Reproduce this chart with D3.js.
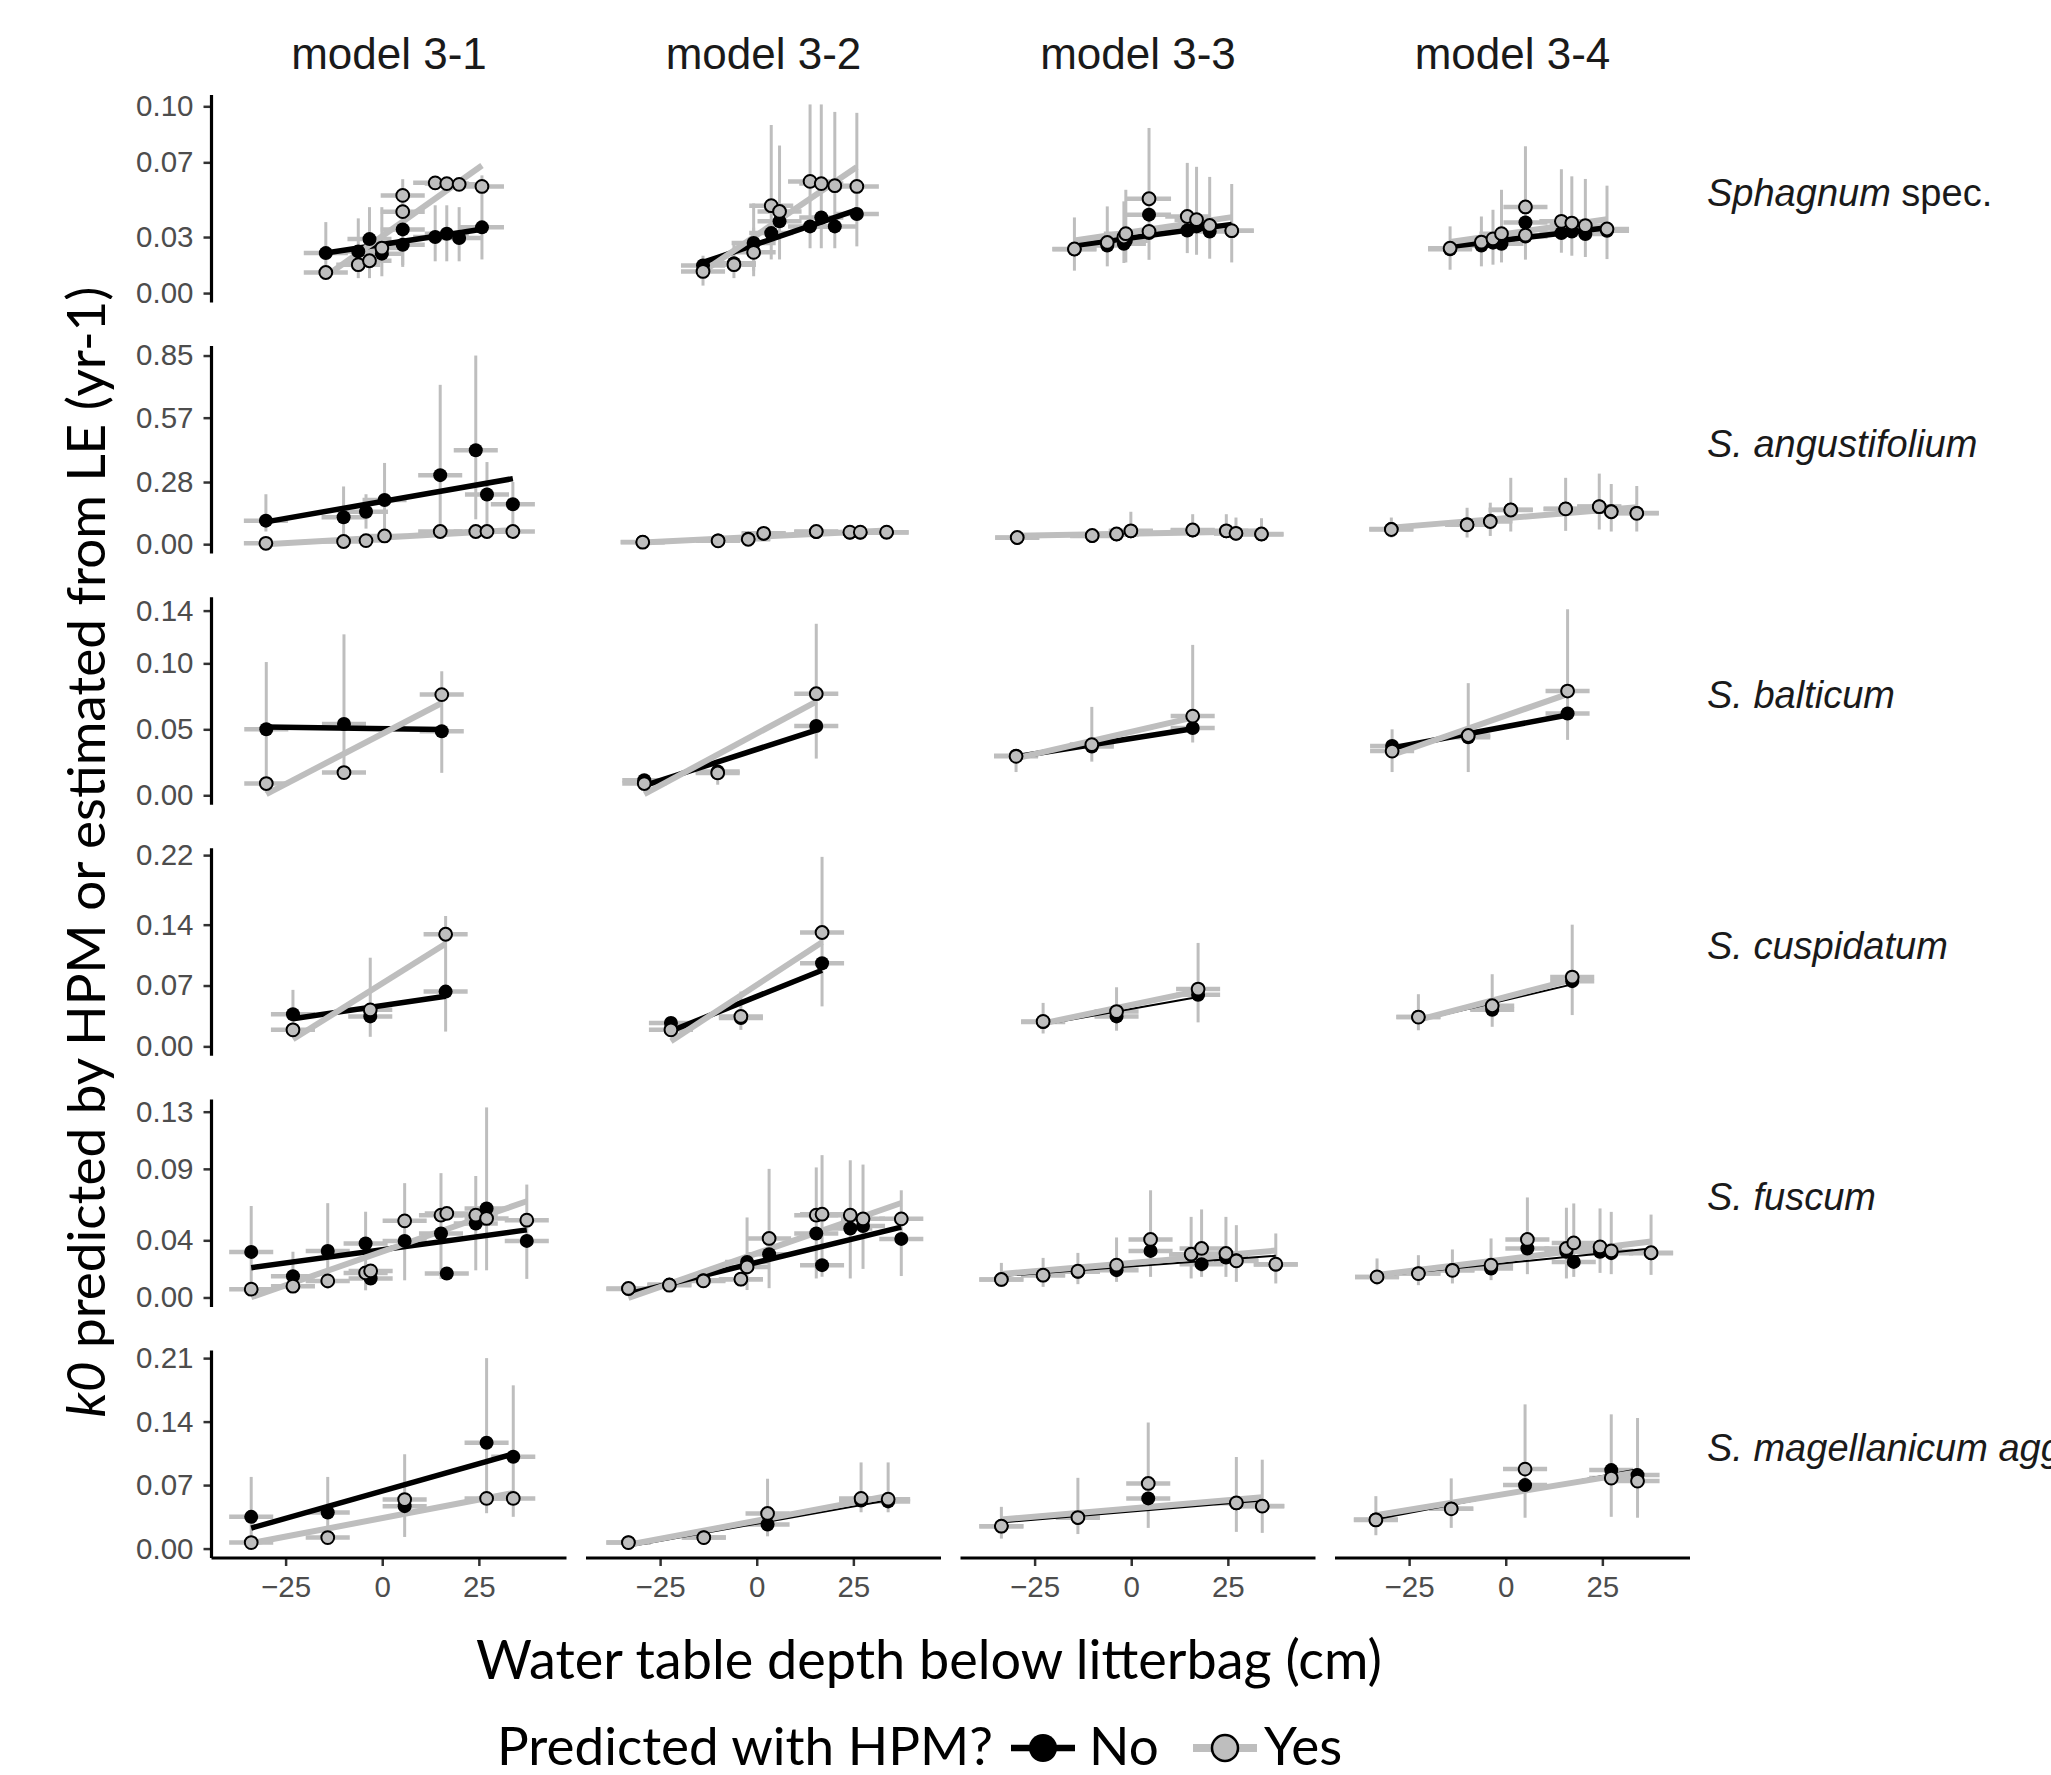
<!DOCTYPE html>
<html>
<head>
<meta charset="utf-8">
<script src="https://cdn.jsdelivr.net/npm/d3@7"></script>
<style>
  body { margin: 0; background: #fff; }
</style>
</head>
<body>
<div id="chart"></div>
<script>
// ---------- data ----------
const models = ["model 3-1", "model 3-2", "model 3-3", "model 3-4"];
// [italic part, plain part]
const species = [
  ["Sphagnum", " spec."],
  ["S. angustifolium", ""],
  ["S. balticum", ""],
  ["S. cuspidatum", ""],
  ["S. fuscum", ""],
  ["S. magellanicum agg.", ""]
];
const yMax = [0.101, 0.85, 0.143, 0.217, 0.132, 0.208];
const yTicks = [
  [0, 0.03, 0.07, 0.10],
  [0, 0.28, 0.57, 0.85],
  [0, 0.05, 0.10, 0.14],
  [0, 0.07, 0.14, 0.22],
  [0, 0.04, 0.09, 0.13],
  [0, 0.07, 0.14, 0.21]
];
const xLim = [-40, 43.5];
const xTicks = [-25, 0, 25];
const xErr = 5.7; // half width of the water table error bar (cm)

// each panel: points [x, k0, lower, upper]  (no lower/upper = no vertical bar)
const sphagnum = [
  { no: [[-14.6,.0214,.010,.038],[-6.2,.0223,.008,.040],[-3.3,.0289,.008,.046],[-0.1,.0211,.009,.046],[5.3,.0341,.014,.061],[5.3,.0259,.015,.050],[13.7,.0300,.017,.047],[16.7,.0318,.017,.047],[19.9,.0295,.017,.046],[25.8,.0352,.018,.063]],
    yes: [[-14.6,.011],[-6.2,.0152],[-3.3,.0173],[-0.1,.0241],[5.3,.0523],[5.3,.0436],[13.7,.059],[16.7,.0586],[19.9,.0582],[25.8,.0571]] },
  { no: [[-13.9,.0148],[-5.9,.016],[-0.8,.0268,.009,.048],[3.75,.0321],[5.9,.0384],[13.8,.0357],[16.7,.0405],[20.2,.0357],[25.9,.0423]],
    yes: [[-13.9,.0116,.004,.020],[-5.9,.0152,.008,.027],[-0.8,.0218,.012,.035],[3.75,.0468,.018,.090],[5.9,.0437,.018,.079],[13.8,.0598,.024,.101],[16.7,.0586,.024,.101],[20.2,.0575,.024,.097],[25.9,.0571,.025,.0965]] },
  { no: [[-14.7,.0234],[-6.2,.0255],[-1.9,.0264],[-1.4,.028],[4.6,.042],[4.6,.0321],[14.5,.0335],[16.9,.0357],[20.3,.033],[26.0,.0334]],
    yes: [[-14.7,.0236,.012,.0405],[-6.2,.0271,.0143,.0464],[-1.9,.030,.0161,.0491],[-1.4,.0318,.0164,.0553],[4.6,.0505,.0178,.0884],[4.6,.033],[14.5,.041,.0214,.0697],[16.9,.0393,.0205,.0676],[20.3,.0362,.0184,.0622],[26.0,.0334,.0164,.0584]] },
  { no: [[-14.4,.0234],[-6.3,.0255],[-3.3,.027],[-1.1,.0264],[5.1,.0378],[5.1,.0303],[14.4,.0321],[17.1,.033],[20.6,.0316],[26.2,.0334]],
    yes: [[-14.4,.024,.0125,.0357],[-6.3,.0273,.0143,.041],[-3.3,.029,.0152,.0446],[-1.1,.0318,.0164,.0553],[5.1,.0461,.0179,.0786],[5.1,.031],[14.4,.0384,.0216,.0663],[17.1,.0375,.020,.0625],[20.6,.0361,.0193,.0611],[26.2,.0343,.0182,.0575]] }
];
const angustifolium = [
  { no: [[-30.1,.106,.057,.225],[-10.0,.121,.027,.26],[-4.2,.146,.07,.225],[0.6,.199,.042,.366],[15.0,.311,.057,.718],[24.2,.423,.112,.85],[27.1,.224,.057,.37],[33.8,.180,.057,.28]],
    yes: [[-30.1,.004],[-10.0,.012],[-4.2,.016],[0.6,.037],[15.0,.057],[24.2,.057],[27.1,.057],[33.8,.057]] },
  { no: [[-29.5,.010],[-10.0,.016],[-2.2,.024],[1.8,.047],[15.4,.055],[24.1,.052],[26.8,.052],[33.6,.053]],
    yes: [[-29.5,.009],[-10.0,.015],[-2.2,.022],[1.8,.049],[15.4,.057],[24.1,.054],[26.8,.054],[33.6,.054]] },
  { no: [[-29.5,.029],[-10.1,.037],[-3.8,.044],[-0.1,.058],[15.9,.062],[24.6,.058],[27.1,.048],[33.7,.044]],
    yes: [[-29.5,.030],[-10.1,.039],[-3.8,.046,.03,.07],[-0.1,.060,.03,.146],[15.9,.064,.03,.135],[24.6,.060,.03,.135],[27.1,.049,.024,.12],[33.7,.046,.024,.117]] },
  { no: [[-29.6,.068],[-10.0,.09],[-4.0,.105],[1.3,.155],[15.5,.16],[24.2,.17],[27.3,.148],[33.9,.14]],
    yes: [[-29.6,.066,.03,.12],[-10.0,.087,.03,.164],[-4.0,.102,.037,.187],[1.3,.154,.057,.299],[15.5,.159,.06,.299],[24.2,.169,.066,.318],[27.3,.146,.057,.271],[33.9,.139,.057,.262]] }
];
const balticum = [
  { no: [[-30.0,.050,.002,.101],[-9.9,.054,.015,.122],[15.4,.0485,.017,.094]],
    yes: [[-30.0,.0089],[-9.9,.0172],[15.4,.0763]] },
  { no: [[-29.1,.0114],[-10.1,.018],[15.4,.0525]],
    yes: [[-29.1,.0089],[-10.1,.0169,.008,.022],[15.4,.077,.0278,.13]] },
  { no: [[-29.8,.030],[-10.2,.037],[15.9,.051]],
    yes: [[-29.8,.0295,.0176,.0327],[-10.2,.0384,.0255,.067],[15.9,.060,.040,.114]] },
  { no: [[-29.4,.0374],[-9.7,.044],[16.0,.062]],
    yes: [[-29.4,.0335,.0176,.050],[-9.7,.0453,.0176,.085],[16.0,.079,.042,.141]] }
];
const cuspidatum = [
  { no: [[-23.1,.037,.015,.065],[-3.1,.0345],[16.4,.063,.017,.150]],
    yes: [[-23.1,.019],[-3.1,.042,.011,.102],[16.4,.129]] },
  { no: [[-22.2,.027],[-4.1,.0326],[16.9,.0957]],
    yes: [[-22.2,.019],[-4.1,.0345,.019,.063],[16.9,.131,.046,.218]] },
  { no: [[-22.8,.028],[-3.8,.0345],[17.3,.0594]],
    yes: [[-22.8,.0287,.0148,.050],[-3.8,.040,.018,.068],[17.3,.0659,.0276,.119]] },
  { no: [[-22.6,.0337],[-3.5,.042],[17.2,.075]],
    yes: [[-22.6,.0337,.0185,.06],[-3.5,.0467,.0225,.083],[17.2,.0797,.036,.14]] }
];
const fuscum = [
  { no: [[-33.9,.0319,.004,.064],[-23.1,.0149,.004,.032],[-14.1,.0326,.006,.066],[-4.3,.0378,.005,.060],[-3.0,.0133],[5.8,.0396,.012,.080],[15.2,.0448,.013,.087],[16.7,.0168],[24.2,.0518,.019,.085],[27.0,.0623,.019,.133],[37.4,.0396,.013,.079]],
    yes: [[-33.9,.0058],[-23.1,.0079],[-14.1,.0116],[-4.3,.0172],[-3.0,.0186],[5.8,.0536],[15.2,.0576],[16.7,.0588],[24.2,.0576],[27.0,.0553],[37.4,.0541]] },
  { no: [[-33.2,.006],[-22.6,.009],[-13.8,.012],[-4.1,.0128],[-2.5,.0249],[3.2,.0303],[15.4,.0448],[16.9,.0226],[24.2,.0483],[27.5,.050],[37.4,.041]],
    yes: [[-33.2,.0063],[-22.6,.0086],[-13.8,.0116],[-4.1,.0128],[-2.5,.0214,.0052,.056],[3.2,.0413,.0065,.090],[15.4,.0576,.0133,.091],[16.9,.0583,.0145,.0996],[24.2,.0576,.0133,.096],[27.5,.055,.02,.093],[37.4,.055,.015,.075]] },
  { no: [[-33.6,.0126],[-22.8,.0156],[-13.8,.018],[-3.8,.0191],[5.0,.0326],[15.5,.030],[18.2,.0233],[24.5,.028],[27.2,.026],[37.4,.023]],
    yes: [[-33.6,.0126,.0074,.0242],[-22.8,.0156,.0074,.0277],[-13.8,.0184,.0093,.0312],[-3.8,.0226,.0109,.042],[5.0,.0406,.0144,.075],[15.5,.0303,.0133,.0564],[18.2,.0343,.0144,.0616],[24.5,.0308,.0144,.0564],[27.2,.0256,.0109,.0506],[37.4,.0233,.0098,.0448]] },
  { no: [[-33.3,.0144],[-22.6,.0167],[-13.8,.019],[-3.8,.0203],[5.6,.0343],[15.7,.032],[17.6,.0249],[24.4,.032],[27.3,.031],[37.6,.031]],
    yes: [[-33.3,.0144,.0086,.0273],[-22.6,.0167,.0086,.0296],[-13.8,.019,.0098,.0336],[-3.8,.0226,.0121,.0413],[5.6,.0406,.0163,.070],[15.7,.0343,.0133,.0628],[17.6,.0382,.0144,.0658],[24.4,.0354,.0172,.0623],[27.3,.0326,.0163,.0599],[37.6,.0313,.0158,.058]] }
];
const magellanicum = [
  { no: [[-33.9,.035,.0128,.079],[-14.1,.0398,.017,.079],[5.8,.0468,.0128,.104],[27.0,.1167,.039,.21],[33.9,.1013,.035,.180]],
    yes: [[-33.9,.0066],[-14.1,.0121],[5.8,.054],[27.0,.0553],[33.9,.0553]] },
  { no: [[-33.2,.0066],[-13.7,.0121],[2.8,.0265],[27.0,.053],[34.0,.052]],
    yes: [[-33.2,.0066],[-13.7,.0121],[2.8,.0387,.0135,.077],[27.0,.0553,.04,.095],[34.0,.0545,.04,.095]] },
  { no: [[-33.6,.0247],[-13.8,.034],[4.4,.0553],[27.2,.050],[33.9,.047]],
    yes: [[-33.6,.0247,.011,.046],[-13.8,.0342,.016,.078],[4.4,.0718,.0228,.139],[27.2,.0504,.0184,.101],[33.9,.0468,.0173,.098]] },
  { no: [[-33.6,.032],[-14.1,.044],[5.0,.070],[27.3,.0865],[34.1,.081]],
    yes: [[-33.6,.0316,.0147,.0578],[-14.1,.0438,.0228,.0774],[5.0,.0876,.034,.159],[27.3,.0777,.035,.148],[34.1,.0744,.034,.144]] }
];
// significant fit (drawn bold) per row x model
const boldNo  = [[1,1,1,1],[1,0,0,0],[1,1,1,1],[1,1,0,0],[1,1,0,0],[1,0,0,0]];
const boldYes = [[1,1,1,1],[1,1,1,1],[1,1,1,1],[1,1,1,1],[1,1,1,1],[1,1,1,1]];

const rows = [sphagnum, angustifolium, balticum, cuspidatum, fuscum, magellanicum];

// ---------- layout ----------
const W = 2051, H = 1775;
const left0 = 211.5, colStep = 374.5, panelW = 355;
const top0 = 95, rowStep = 251.1, panelH = 207.5;
const GREY = "#bebebe";
const TICKFONT = "'Liberation Sans', Arial, sans-serif";
const TITLEFONT = "Lato, 'Open Sans', sans-serif";

const svg = d3.select("#chart").append("svg")
  .attr("width", W).attr("height", H)
  .style("font-family", TICKFONT);

function expand([a, b]) {
  const d = (b - a) * 0.05;
  return [a - d, b + d];
}

// simple least squares line over the data range (like geom_smooth lm)
function fit(pts) {
  const mx = d3.mean(pts, d => d[0]), my = d3.mean(pts, d => d[1]);
  let sxy = 0, sxx = 0;
  pts.forEach(d => { sxy += (d[0] - mx) * (d[1] - my); sxx += (d[0] - mx) ** 2; });
  const b = sxy / sxx, a = my - b * mx;
  const [x0, x1] = d3.extent(pts, d => d[0]);
  return [[x0, a + b * x0], [x1, a + b * x1]];
}

const x = d3.scaleLinear().domain(expand(xLim)).range([0, panelW]);

rows.forEach((panels, r) => {
  const y = d3.scaleLinear().domain(expand([0, yMax[r]])).range([panelH, 0]);
  const rowY = top0 + r * rowStep;

  panels.forEach((p, c) => {
    const g = svg.append("g")
      .attr("transform", `translate(${left0 + c * colStep},${rowY})`);
    const all = p.no.concat(p.yes);

    // vertical error bars
    g.selectAll(".ev").data(all.filter(d => d.length > 2)).enter()
      .append("line")
      .attr("x1", d => x(d[0])).attr("x2", d => x(d[0]))
      .attr("y1", d => y(d[2])).attr("y2", d => y(d[3]))
      .attr("stroke", GREY).attr("stroke-width", 3);

    // horizontal error bars
    g.selectAll(".eh").data(all).enter()
      .append("line")
      .attr("x1", d => x(d[0] - xErr)).attr("x2", d => x(d[0] + xErr))
      .attr("y1", d => y(d[1])).attr("y2", d => y(d[1]))
      .attr("stroke", GREY).attr("stroke-width", 4.5);

    // regression lines
    const line = d3.line().x(d => x(d[0])).y(d => y(d[1]));
    g.append("path").attr("d", line(fit(p.no)))
      .attr("fill", "none").attr("stroke", "#000")
      .attr("stroke-width", boldNo[r][c] ? 5.5 : 2);
    g.append("path").attr("d", line(fit(p.yes)))
      .attr("fill", "none").attr("stroke", GREY)
      .attr("stroke-width", boldYes[r][c] ? 6 : 2);

    // points
    g.selectAll(".pn").data(p.no).enter()
      .append("circle")
      .attr("cx", d => x(d[0])).attr("cy", d => y(d[1]))
      .attr("r", 7).attr("fill", "#000");
    g.selectAll(".py").data(p.yes).enter()
      .append("circle")
      .attr("cx", d => x(d[0])).attr("cy", d => y(d[1]))
      .attr("r", 6.4).attr("fill", GREY)
      .attr("stroke", "#000").attr("stroke-width", 2);

    // y axis on first column
    if (c === 0) {
      const ax = g.append("g")
        .call(d3.axisLeft(y).tickValues(yTicks[r]).tickFormat(d3.format(".2f"))
          .tickSize(8).tickPadding(10));
      ax.select(".domain").remove();
      ax.selectAll(".tick line").attr("stroke", "#333").attr("stroke-width", 2.5);
      ax.selectAll(".tick text").attr("fill", "#4d4d4d")
        .style("font-size", "29.5px").style("font-family", TICKFONT);
      g.append("line").attr("x1", 0).attr("x2", 0)
        .attr("y1", 0).attr("y2", panelH)
        .attr("stroke", "#000").attr("stroke-width", 3.2);
    }

    // x axis on bottom row
    if (r === rows.length - 1) {
      const ax = g.append("g").attr("transform", `translate(0,${panelH})`)
        .call(d3.axisBottom(x).tickValues(xTicks).tickFormat(d3.format("d"))
          .tickSize(8).tickPadding(10));
      ax.select(".domain").remove();
      ax.selectAll(".tick line").attr("stroke", "#333").attr("stroke-width", 2.5);
      ax.selectAll(".tick text").attr("fill", "#4d4d4d")
        .style("font-size", "29.5px").style("font-family", TICKFONT);
      g.append("line").attr("x1", 0).attr("x2", panelW)
        .attr("y1", panelH).attr("y2", panelH)
        .attr("stroke", "#000").attr("stroke-width", 3.2);
    }
  });

  // row (species) label on the right
  const t = svg.append("text")
    .attr("x", 1707).attr("y", rowY + panelH / 2 - 3)
    .attr("dominant-baseline", "middle")
    .style("font-size", "38px").attr("fill", "#1a1a1a");
  t.append("tspan").style("font-style", "italic").text(species[r][0]);
  if (species[r][1]) t.append("tspan").text(species[r][1]);
});

// column strips
models.forEach((m, c) => {
  svg.append("text")
    .attr("x", left0 + c * colStep + panelW / 2).attr("y", 69)
    .attr("text-anchor", "middle")
    .style("font-size", "44px").attr("fill", "#1a1a1a")
    .text(m);
});

// axis titles
svg.append("text")
  .attr("x", 929).attr("y", 1679)
  .attr("text-anchor", "middle")
  .style("font-family", TITLEFONT).style("font-size", "54px")
  .text("Water table depth below litterbag (cm)");

const yt = svg.append("text")
  .attr("transform", "translate(105,852) rotate(-90)")
  .attr("text-anchor", "middle")
  .style("font-family", TITLEFONT).style("font-size", "53px");
yt.append("tspan").style("font-style", "italic").text("k0");
yt.append("tspan").text(" predicted by HPM or estimated from LE (yr-1)");

// legend
const lg = svg.append("g").style("font-family", TITLEFONT).style("font-size", "53px");
lg.append("text").attr("x", 497).attr("y", 1765).text("Predicted with HPM?");
lg.append("line").attr("x1", 1011).attr("x2", 1075).attr("y1", 1748).attr("y2", 1748)
  .attr("stroke", "#000").attr("stroke-width", 6.5);
lg.append("circle").attr("cx", 1043).attr("cy", 1748).attr("r", 14).attr("fill", "#000");
lg.append("text").attr("x", 1089).attr("y", 1765).text("No");
lg.append("line").attr("x1", 1193).attr("x2", 1257).attr("y1", 1748).attr("y2", 1748)
  .attr("stroke", GREY).attr("stroke-width", 8);
lg.append("circle").attr("cx", 1225).attr("cy", 1748).attr("r", 13)
  .attr("fill", GREY).attr("stroke", "#000").attr("stroke-width", 2.5);
lg.append("text").attr("x", 1264).attr("y", 1765).text("Yes");
</script>
</body>
</html>
